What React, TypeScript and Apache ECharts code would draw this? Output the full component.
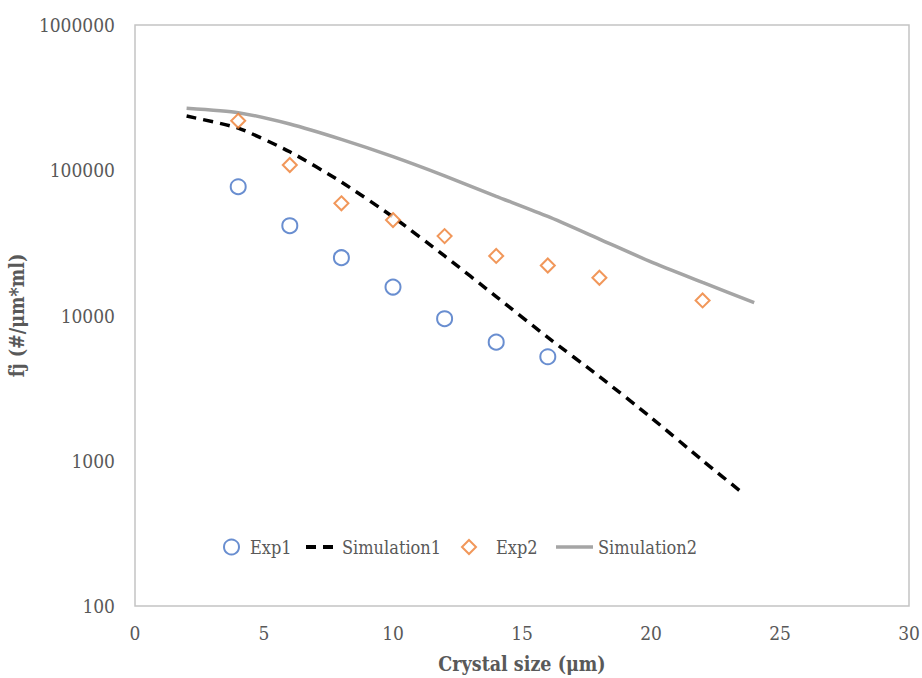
import React, { useEffect, useRef } from "react";
import * as echarts from "echarts";

const exp1X = [4, 6, 8, 10, 12, 14, 16];
const exp1Y = [77000, 41500, 25000, 15700, 9500, 6550, 5200];

const exp2X = [4, 6, 8, 10, 12, 14, 16, 18, 22];
const exp2Y = [219000, 108700, 59200, 45400, 35200, 25700, 22100, 18200, 12700];

const sim1X = [2, 4, 6, 8, 10, 12, 14, 16, 18, 20, 22, 23.6];
const sim1Y = [236000, 195000, 134000, 83000, 47700, 25700, 13500, 7060, 3800, 1985, 1004, 590];

const sim2X = [2, 4, 6, 8, 10, 12, 14, 16, 18, 20, 22, 24];
const sim2Y = [267000, 249000, 208000, 163000, 124000, 91500, 66200, 48100, 33600, 23400, 16900, 12250];

const seriesNames = ["Exp1", "Simulation1", "Exp2", "Simulation2"];
const xTitle = "Crystal size (μm)";
const yTitle = "fj (#/μm*ml)";

const pairs = (xs: number[], ys: number[]) => xs.map((x, i) => [x, ys[i]]);

const FONT = "'DejaVu Serif Condensed', 'DejaVu Serif'";
const TEXT_COLOR = "#595959";

export default function App() {
  const ref = useRef<HTMLDivElement>(null);
  useEffect(() => {
    document.body.style.margin = "0";
    const chart = echarts.init(ref.current!, null, { renderer: "svg" });
    const legendText = (pad: number) => ({
      color: TEXT_COLOR,
      fontFamily: FONT,
      fontSize: 18,
      padding: [0, 0, 0, pad],
    });
    chart.setOption({
      animation: false,
      backgroundColor: "#ffffff",
      textStyle: { fontFamily: FONT },
      grid: {
        left: 135,
        top: 25,
        width: 774,
        height: 581,
        containLabel: false,
        outerBoundsMode: "none",
        show: true,
        borderColor: "#c4c4c4",
        borderWidth: 1.5,
        backgroundColor: "transparent",
      },
      legend: [
        {
          data: [{ name: seriesNames[0], icon: "emptyCircle" }],
          left: 218,
          top: 533,
          itemWidth: 15,
          itemHeight: 15,
          textStyle: legendText(6),
        },
        {
          data: [{ name: seriesNames[1], icon: "path://M0,0h10v4h-10z M17,0h10v4h-10z" }],
          left: 301,
          top: 533,
          itemWidth: 27,
          itemHeight: 4,
          textStyle: legendText(4),
        },
        {
          data: [{ name: seriesNames[2], icon: "emptyDiamond" }],
          left: 456,
          top: 533,
          itemWidth: 14,
          itemHeight: 14,
          textStyle: legendText(15),
        },
        {
          data: [{ name: seriesNames[3], icon: "rect" }],
          left: 551,
          top: 533,
          itemWidth: 37,
          itemHeight: 3.5,
          textStyle: legendText(0),
        },
      ],
      xAxis: {
        type: "value",
        min: 0,
        max: 30,
        interval: 5,
        name: xTitle,
        nameLocation: "middle",
        nameGap: 48,
        nameTextStyle: { color: TEXT_COLOR, fontFamily: FONT, fontSize: 19.5, fontWeight: "bold" },
        axisLine: { show: false },
        axisTick: { show: false },
        splitLine: { show: false },
        axisLabel: { color: TEXT_COLOR, fontFamily: FONT, fontSize: 19, margin: 17 },
      },
      yAxis: {
        type: "log",
        logBase: 10,
        min: 100,
        max: 1000000,
        name: yTitle,
        nameLocation: "middle",
        nameGap: 93,
        nameRotate: 90,
        nameTextStyle: { color: TEXT_COLOR, fontFamily: FONT, fontSize: 19.5, fontWeight: "bold" },
        axisLine: { show: false },
        axisTick: { show: false },
        splitLine: { show: false },
        axisLabel: {
          color: TEXT_COLOR,
          fontFamily: FONT,
          fontSize: 19,
          margin: 20,
          formatter: (v: number) => String(Math.round(v)),
        },
      },
      series: [
        {
          name: seriesNames[0],
          type: "scatter",
          symbol: "emptyCircle",
          symbolSize: 15,
          itemStyle: { color: "#4472C4", borderColor: "#4472C4", borderWidth: 1.6 },
          data: pairs(exp1X, exp1Y),
          z: 3,
        },
        {
          name: seriesNames[1],
          type: "line",
          showSymbol: false,
          symbol: "none",
          smooth: 0.2,
          lineStyle: { color: "#000000", width: 3.5, type: [10, 7], cap: "butt" },
          itemStyle: { color: "#000000" },
          data: pairs(sim1X, sim1Y),
          z: 2,
        },
        {
          name: seriesNames[2],
          type: "scatter",
          symbol: "emptyDiamond",
          symbolSize: 14,
          itemStyle: { color: "#ED7D31", borderColor: "#ED7D31", borderWidth: 1.6 },
          data: pairs(exp2X, exp2Y),
          z: 3,
        },
        {
          name: seriesNames[3],
          type: "line",
          showSymbol: false,
          symbol: "none",
          smooth: 0.2,
          lineStyle: { color: "#A5A5A5", width: 3.5 },
          itemStyle: { color: "#A5A5A5" },
          data: pairs(sim2X, sim2Y),
          z: 1,
        },
      ],
    });
    return () => chart.dispose();
  }, []);
  return <div ref={ref} style={{ width: 922, height: 678 }} />;
}
